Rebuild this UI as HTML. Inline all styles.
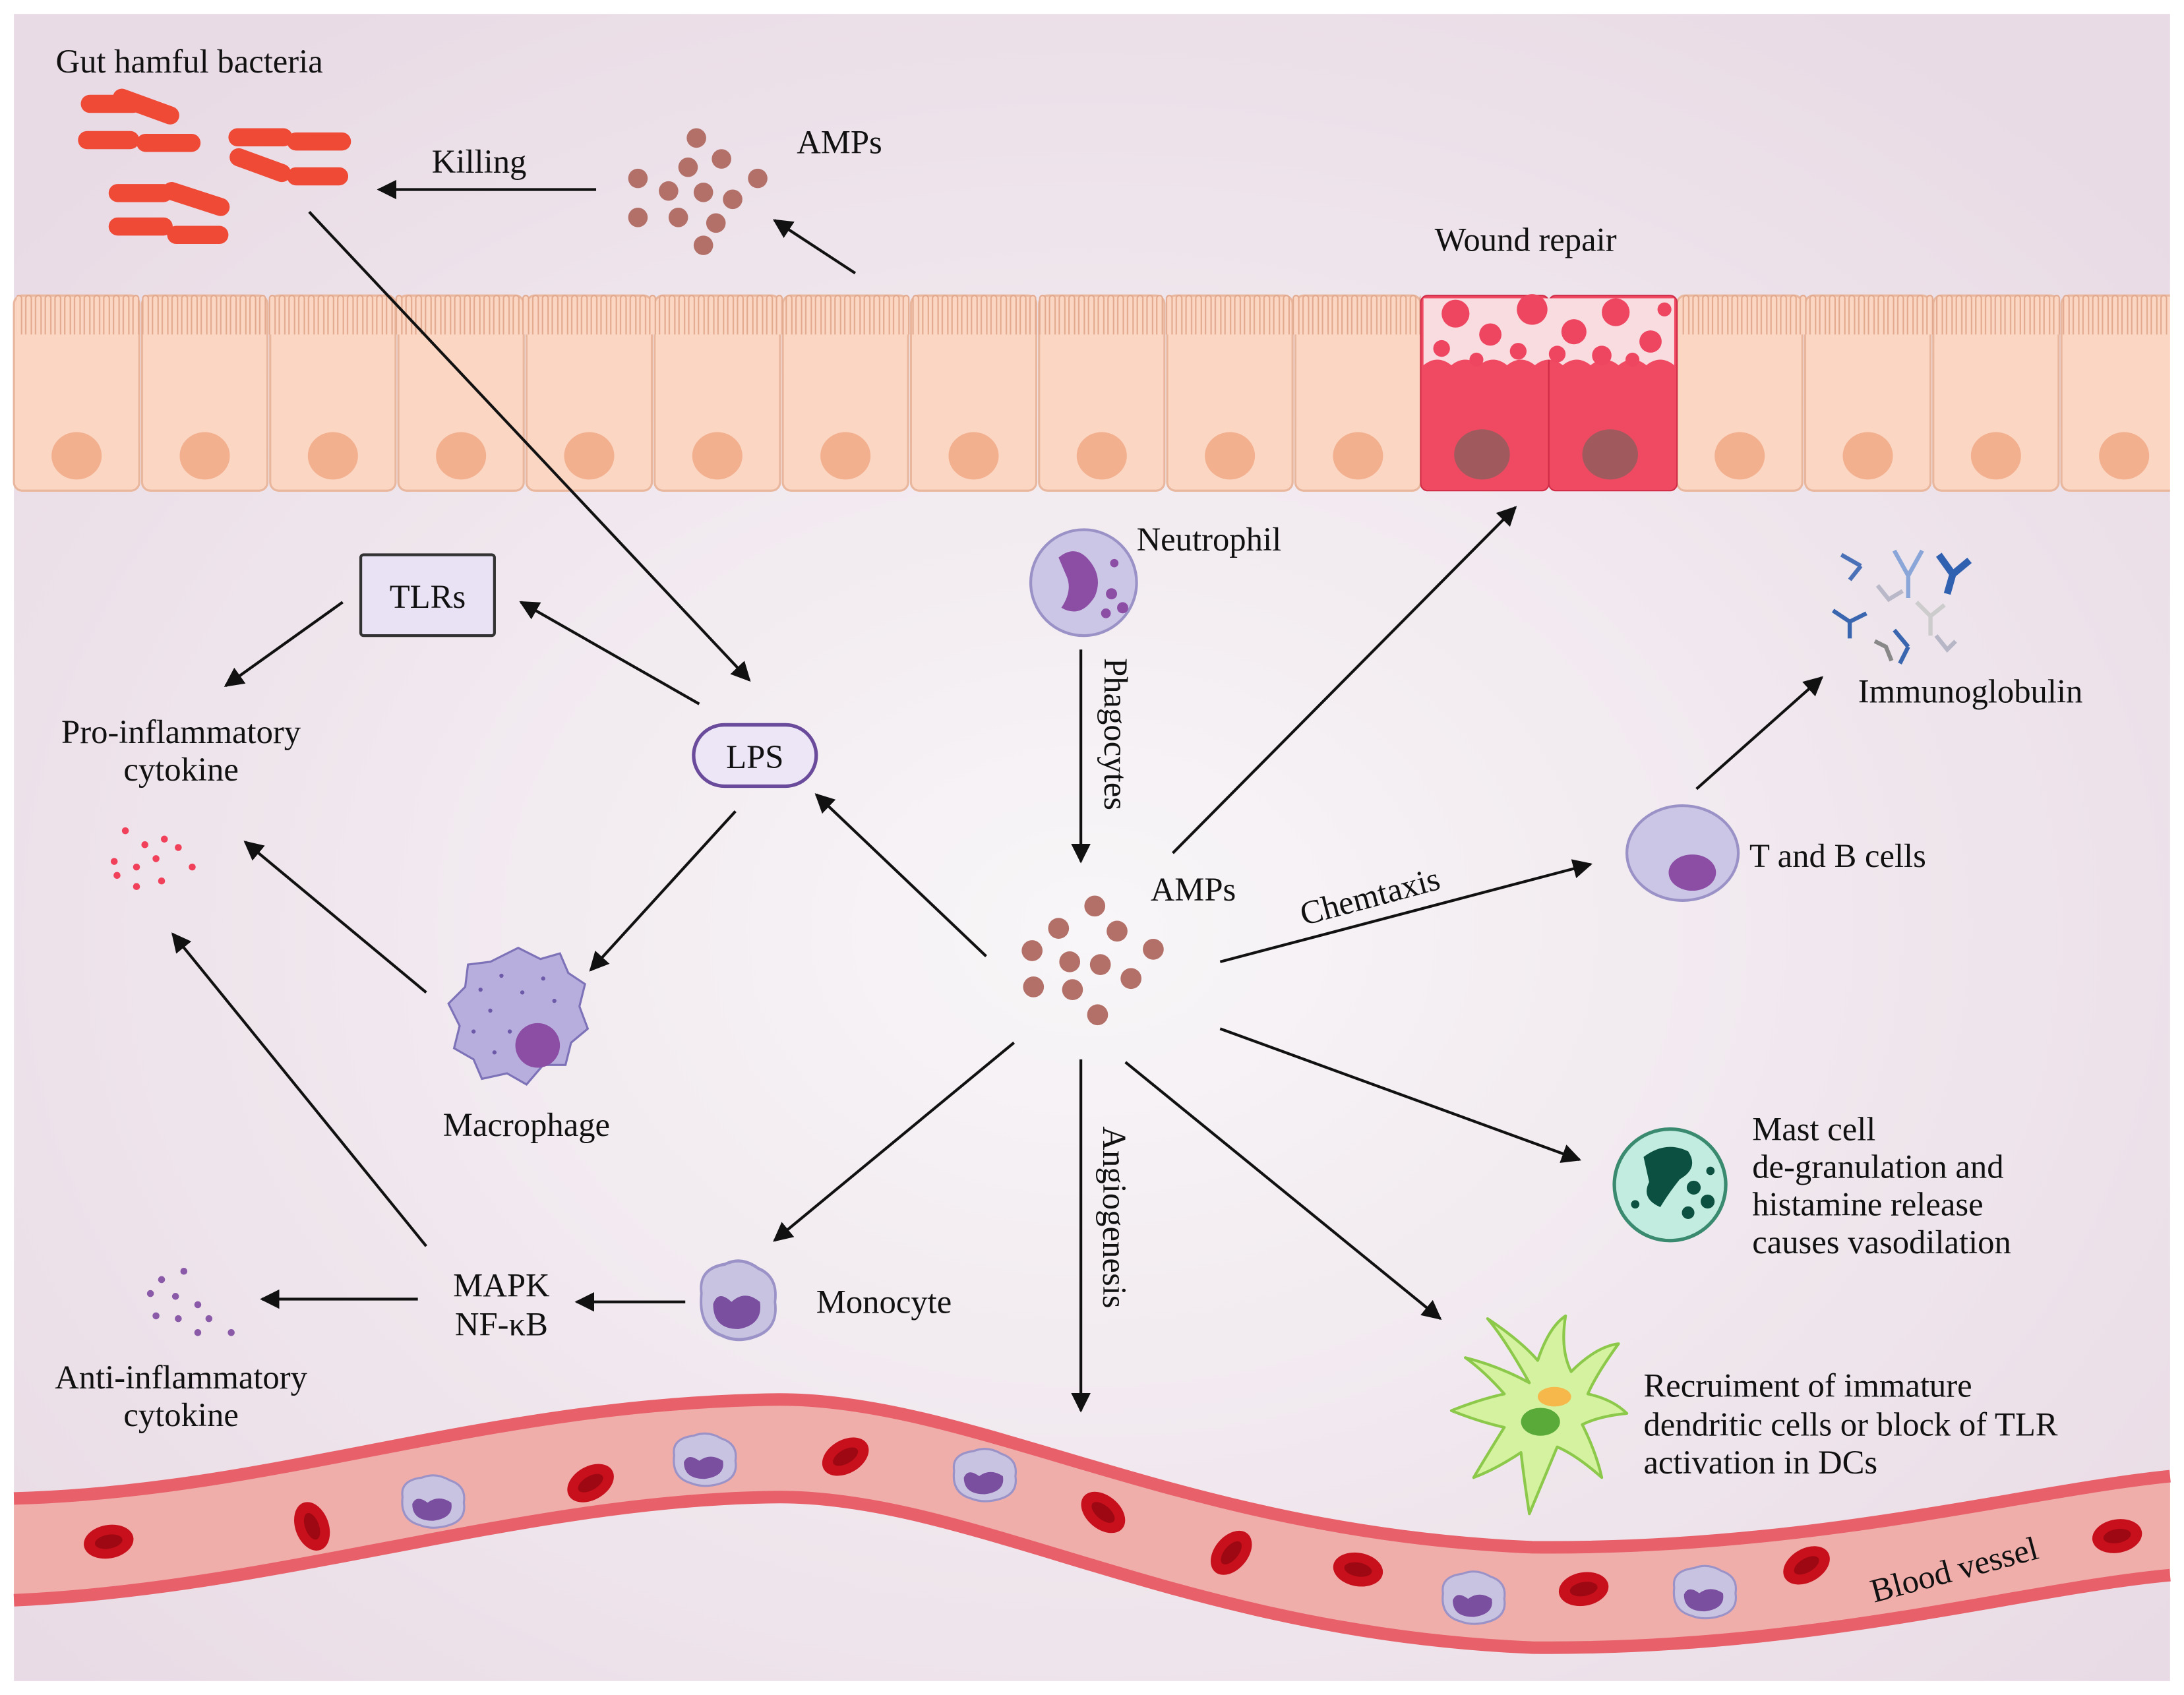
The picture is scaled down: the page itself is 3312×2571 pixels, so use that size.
<!DOCTYPE html>
<html><head><meta charset="utf-8"><style>
html,body{margin:0;padding:0;background:#fff}
svg{display:block}
svg text{font-family:"Liberation Serif","DejaVu Serif","Times New Roman",serif !important}
</style></head><body>
<svg width="3312" height="2571" viewBox="0 0 1568 1216" preserveAspectRatio="none" xmlns="http://www.w3.org/2000/svg" fill="#111">
<defs>
<radialGradient id="bg" cx="0.5" cy="0.55" r="0.65">
<stop offset="0" stop-color="#f8f6f8"/><stop offset="1" stop-color="#e9dbe5"/>
</radialGradient>
<pattern id="mv" x="10" y="210" width="7" height="30" patternUnits="userSpaceOnUse">
<path d="M1.5,30 V4 a2,2 0 0 1 4,0 V30" fill="#fbd6c3" stroke="#e2a98e" stroke-width="1"/>
</pattern>
<marker id="a" viewBox="0 0 10 10" refX="9" refY="5" markerWidth="7" markerHeight="7" orient="auto"><path d="M0,0 L10,5 L0,10 z" fill="#111"/></marker>
<g id="cell"><rect x="0" y="0" width="90" height="140" rx="6" fill="#fbd6c3" stroke="#e9b79d" stroke-width="1.5"/><ellipse cx="45" cy="115" rx="18" ry="17" fill="#f2b08f"/></g>
<g id="rbc"><ellipse rx="18" ry="12" fill="#c7101c"/><ellipse rx="10" ry="5" fill="#9e0812"/></g>
<g id="mono"><path d="M-22,-4 Q-24,-16 -8,-18 Q2,-22 12,-16 Q24,-12 22,0 Q24,12 12,16 Q0,20 -10,16 Q-24,12 -22,-4z" fill="#c9c3e2" stroke="#9b93c7" stroke-width="1.5"/><path d="M-15,1 Q-12,-6 -4,0 Q4,-6 13,0 Q15,11 0,13 Q-15,13 -15,1z" fill="#7b4fa0"/></g>
</defs>
<rect width="1568" height="1216" fill="#fff"/>
<rect x="10" y="10" width="1548" height="1196" fill="url(#bg)"/>

<!-- epithelium -->
<g transform="translate(10,212)">
<use href="#cell" x="0"/><use href="#cell" x="92"/><use href="#cell" x="184"/><use href="#cell" x="276"/><use href="#cell" x="368"/><use href="#cell" x="460"/><use href="#cell" x="552"/><use href="#cell" x="644"/><use href="#cell" x="736"/><use href="#cell" x="828"/><use href="#cell" x="920"/>
<use href="#cell" x="1194"/><use href="#cell" x="1286"/><use href="#cell" x="1378"/><use href="#cell" x="1470"/>
</g>
<rect x="12" y="210" width="1008" height="30" fill="url(#mv)"/>
<rect x="1206" y="210" width="350" height="30" fill="url(#mv)"/>
<rect x="1558" y="200" width="10" height="160" fill="#fff"/>
<!-- wound cells -->
<g>
<rect x="1020" y="212" width="92" height="140" rx="5" fill="#f04a62" stroke="#d02c48"/>
<rect x="1112" y="212" width="92" height="140" rx="5" fill="#f04a62" stroke="#d02c48"/>
<path d="M1022,214 H1202 V262 q-10,-8 -20,0 q-10,-8 -20,0 q-10,-8 -20,0 q-10,-8 -20,0 q-10,-8 -20,0 q-10,-8 -20,0 q-10,-8 -20,0 q-10,-8 -20,0 q-10,-8 -20,0z" fill="#f9dce0"/>
<g fill="#ee4660">
<circle cx="1045" cy="225" r="10"/><circle cx="1070" cy="240" r="8"/><circle cx="1100" cy="222" r="11"/><circle cx="1130" cy="238" r="9"/><circle cx="1160" cy="224" r="10"/><circle cx="1185" cy="245" r="8"/><circle cx="1035" cy="250" r="6"/><circle cx="1090" cy="252" r="6"/><circle cx="1150" cy="255" r="7"/><circle cx="1195" cy="222" r="5"/><circle cx="1060" cy="258" r="5"/><circle cx="1118" cy="254" r="6"/><circle cx="1172" cy="258" r="5"/>
</g>
<ellipse cx="1064" cy="326" rx="20" ry="18" fill="#a05a5e"/>
<ellipse cx="1156" cy="326" rx="20" ry="18" fill="#a05a5e"/>
</g>

<!-- blood vessel -->
<path d="M10,1075 C200,1070 350,1006 560,1004 C700,1004 850,1100 1100,1110 C1300,1112 1450,1070 1558,1059 L1558,1130 C1450,1140 1300,1184 1100,1182 C850,1172 700,1074 560,1074 C380,1075 200,1140 10,1148z" fill="#f0aeab"/>
<path d="M10,1075 C200,1070 350,1006 560,1004 C700,1004 850,1100 1100,1110 C1300,1112 1450,1070 1558,1059" fill="none" stroke="#e8606a" stroke-width="9"/>
<path d="M10,1148 C200,1140 380,1075 560,1074 C700,1074 850,1172 1100,1182 C1300,1184 1450,1140 1558,1130" fill="none" stroke="#e8606a" stroke-width="9"/>
<use href="#rbc" transform="translate(78,1106) rotate(-10)"/>
<use href="#rbc" transform="translate(224,1095) rotate(70)"/>
<use href="#rbc" transform="translate(424,1064) rotate(-30)"/>
<use href="#rbc" transform="translate(607,1045) rotate(-30)"/>
<use href="#rbc" transform="translate(792,1085) rotate(40)"/>
<use href="#rbc" transform="translate(884,1114) rotate(-50)"/>
<use href="#rbc" transform="translate(975,1126) rotate(10)"/>
<use href="#rbc" transform="translate(1137,1140) rotate(-10)"/>
<use href="#rbc" transform="translate(1297,1123) rotate(-30)"/>
<use href="#rbc" transform="translate(1520,1102) rotate(-10)"/>
<use href="#mono" transform="translate(311,1078)"/>
<use href="#mono" transform="translate(506,1048)"/>
<use href="#mono" transform="translate(707,1059)"/>
<use href="#mono" transform="translate(1058,1147)"/>
<use href="#mono" transform="translate(1224,1143)"/>
<text x="1340" y="1132" font-size="24" transform="rotate(-15 1410 1120)">Blood vessel</text>

<!-- bacteria -->
<g fill="#ef4a36">
<rect x="58" y="68" width="44" height="13" rx="6.5"/><rect x="80" y="70" width="50" height="13" rx="6.5" transform="rotate(20 105 76)"/>
<rect x="56" y="94" width="44" height="13" rx="6.5"/><rect x="98" y="96" width="46" height="13" rx="6.5"/>
<rect x="164" y="92" width="46" height="13" rx="6.5"/><rect x="206" y="95" width="46" height="13" rx="6.5"/>
<rect x="164" y="112" width="46" height="13" rx="6.5" transform="rotate(20 187 118)"/><rect x="206" y="120" width="44" height="13" rx="6.5"/>
<rect x="78" y="132" width="46" height="13" rx="6.5"/><rect x="116" y="136" width="50" height="13" rx="6.5" transform="rotate(18 140 142)"/>
<rect x="78" y="156" width="46" height="13" rx="6.5"/><rect x="120" y="162" width="44" height="13" rx="6.5"/>
</g>
<text x="40" y="52" font-size="24">Gut hamful bacteria</text>

<!-- AMPs top -->
<g fill="#b37068">
<circle cx="500" cy="99" r="7"/><circle cx="518" cy="114" r="7"/><circle cx="458" cy="128" r="7"/><circle cx="494" cy="120" r="7"/><circle cx="544" cy="128" r="7"/><circle cx="480" cy="137" r="7"/><circle cx="505" cy="138" r="7"/><circle cx="526" cy="143" r="7"/><circle cx="458" cy="156" r="7"/><circle cx="487" cy="156" r="7"/><circle cx="514" cy="160" r="7"/><circle cx="505" cy="176" r="7"/>
</g>
<text x="572" y="110" font-size="24">AMPs</text>
<line x1="428" y1="136" x2="272" y2="136" stroke="#111" stroke-width="2" marker-end="url(#a)"/>
<text x="310" y="124" font-size="24">Killing</text>
<line x1="614" y1="196" x2="556" y2="158" stroke="#111" stroke-width="2" marker-end="url(#a)"/>
<text x="1030" y="180" font-size="24">Wound repair</text>

<line x1="222" y1="152" x2="538" y2="488" stroke="#111" stroke-width="2" marker-end="url(#a)"/>

<!-- TLRs -->
<rect x="259" y="398" width="96" height="58" fill="#e9e2f4" stroke="#333" stroke-width="2" rx="2"/>
<text x="307" y="436" font-size="24" text-anchor="middle">TLRs</text>
<rect x="498" y="520" width="88" height="44" rx="22" fill="#ece6f6" stroke="#6a4a9a" stroke-width="2.5"/>
<text x="542" y="551" font-size="24" text-anchor="middle">LPS</text>
<line x1="502" y1="505" x2="374" y2="432" stroke="#111" stroke-width="2" marker-end="url(#a)"/>
<line x1="246" y1="432" x2="162" y2="492" stroke="#111" stroke-width="2" marker-end="url(#a)"/>
<text x="130" y="533" font-size="24" text-anchor="middle">Pro-inflammatory</text>
<text x="130" y="560" font-size="24" text-anchor="middle">cytokine</text>
<g fill="#f0405a">
<circle cx="90" cy="596" r="2.5"/><circle cx="104" cy="606" r="2.5"/><circle cx="118" cy="602" r="2.5"/><circle cx="128" cy="608" r="2.5"/><circle cx="82" cy="618" r="2.5"/><circle cx="98" cy="622" r="2.5"/><circle cx="112" cy="616" r="2.5"/><circle cx="138" cy="622" r="2.5"/><circle cx="84" cy="628" r="2.5"/><circle cx="98" cy="636" r="2.5"/><circle cx="116" cy="632" r="2.5"/>
</g>
<line x1="528" y1="582" x2="424" y2="696" stroke="#111" stroke-width="2" marker-end="url(#a)"/>
<line x1="306" y1="712" x2="176" y2="604" stroke="#111" stroke-width="2" marker-end="url(#a)"/>
<line x1="306" y1="894" x2="124" y2="670" stroke="#111" stroke-width="2" marker-end="url(#a)"/>

<!-- Macrophage -->
<path d="M372,680 L388,688 L402,684 L408,698 L420,706 L416,722 L422,738 L410,748 L406,764 L390,764 L378,778 L364,770 L346,774 L340,760 L326,752 L330,736 L322,720 L334,708 L336,692 L352,690z" fill="#b7aedd" stroke="#7d72b8" stroke-width="1.5"/>
<g fill="#6c5aa8"><circle cx="345" cy="710" r="1.5"/><circle cx="360" cy="700" r="1.5"/><circle cx="375" cy="712" r="1.5"/><circle cx="352" cy="725" r="1.5"/><circle cx="340" cy="740" r="1.5"/><circle cx="366" cy="740" r="1.5"/><circle cx="390" cy="702" r="1.5"/><circle cx="355" cy="755" r="1.5"/><circle cx="398" cy="718" r="1.5"/></g>
<circle cx="386" cy="750" r="16" fill="#8b4ea4"/>
<text x="378" y="815" font-size="24" text-anchor="middle">Macrophage</text>

<!-- MAPK -->
<text x="360" y="930" font-size="24" text-anchor="middle">MAPK</text>
<text x="360" y="958" font-size="24" text-anchor="middle">NF-κB</text>
<line x1="492" y1="934" x2="414" y2="934" stroke="#111" stroke-width="2" marker-end="url(#a)"/>
<line x1="300" y1="932" x2="188" y2="932" stroke="#111" stroke-width="2" marker-end="url(#a)"/>
<g fill="#8a5aa8">
<circle cx="132" cy="912" r="2.5"/><circle cx="116" cy="918" r="2.5"/><circle cx="108" cy="928" r="2.5"/><circle cx="126" cy="930" r="2.5"/><circle cx="142" cy="936" r="2.5"/><circle cx="112" cy="944" r="2.5"/><circle cx="128" cy="946" r="2.5"/><circle cx="150" cy="946" r="2.5"/><circle cx="142" cy="956" r="2.5"/><circle cx="166" cy="956" r="2.5"/>
</g>
<text x="130" y="996" font-size="24" text-anchor="middle">Anti-inflammatory</text>
<text x="130" y="1023" font-size="24" text-anchor="middle">cytokine</text>
<use href="#mono" transform="translate(530,934) scale(1.2,1.5)"/>
<text x="586" y="942" font-size="24">Monocyte</text>

<!-- Neutrophil -->
<circle cx="778" cy="418" r="38" fill="#ccc6e6" stroke="#9a92c6" stroke-width="2"/>
<path d="M760,400 Q772,390 782,402 Q792,414 786,428 Q776,444 762,436 Q770,424 766,414z" fill="#8b4ea4"/>
<g fill="#8b4ea4"><circle cx="798" cy="426" r="4"/><circle cx="806" cy="436" r="4"/><circle cx="794" cy="440" r="3.5"/><circle cx="800" cy="404" r="3"/></g>
<text x="816" y="395" font-size="24">Neutrophil</text>
<line x1="776" y1="466" x2="776" y2="618" stroke="#111" stroke-width="2" marker-end="url(#a)"/>
<text font-size="24" transform="translate(793,472) rotate(90)">Phagocytes</text>

<!-- central AMPs -->
<g fill="#b37068">
<circle cx="786" cy="650" r="7.5"/><circle cx="760" cy="666" r="7.5"/><circle cx="802" cy="668" r="7.5"/><circle cx="741" cy="682" r="7.5"/><circle cx="768" cy="690" r="7.5"/><circle cx="790" cy="692" r="7.5"/><circle cx="828" cy="681" r="7.5"/><circle cx="812" cy="702" r="7.5"/><circle cx="742" cy="708" r="7.5"/><circle cx="770" cy="710" r="7.5"/><circle cx="788" cy="728" r="7.5"/>
</g>
<text x="826" y="646" font-size="24">AMPs</text>

<line x1="708" y1="686" x2="586" y2="570" stroke="#111" stroke-width="2" marker-end="url(#a)"/>
<line x1="842" y1="612" x2="1088" y2="364" stroke="#111" stroke-width="2" marker-end="url(#a)"/>
<line x1="876" y1="690" x2="1142" y2="620" stroke="#111" stroke-width="2" marker-end="url(#a)"/>
<text font-size="24" transform="translate(936,664) rotate(-15)">Chemtaxis</text>
<line x1="876" y1="738" x2="1134" y2="832" stroke="#111" stroke-width="2" marker-end="url(#a)"/>
<line x1="808" y1="762" x2="1034" y2="946" stroke="#111" stroke-width="2" marker-end="url(#a)"/>
<line x1="776" y1="760" x2="776" y2="1012" stroke="#111" stroke-width="2" marker-end="url(#a)"/>
<text font-size="24" transform="translate(792,808) rotate(90)">Angiogenesis</text>
<line x1="728" y1="748" x2="556" y2="890" stroke="#111" stroke-width="2" marker-end="url(#a)"/>

<!-- T and B cells -->
<ellipse cx="1208" cy="612" rx="40" ry="34" fill="#ccc6e6" stroke="#9a92c6" stroke-width="2"/>
<ellipse cx="1215" cy="626" rx="17" ry="13" fill="#8b4ea4"/>
<text x="1256" y="622" font-size="24">T and B cells</text>
<line x1="1218" y1="566" x2="1308" y2="486" stroke="#111" stroke-width="2" marker-end="url(#a)"/>
<g stroke-width="3" fill="none">
<path d="M1360,395 l10,18 l10,-18 M1370,413 v16" stroke="#8aa6d8"/>
<path d="M1392,398 l10,14 l12,-10 M1402,412 l-4,14" stroke="#3060b0" stroke-width="5"/>
<path d="M1322,398 l14,8 M1336,406 l-8,10" stroke="#4a70b8"/>
<path d="M1316,438 l12,8 l12,-6 M1328,446 v12" stroke="#3a66b0"/>
<path d="M1348,420 l8,10 l10,-6" stroke="#b8b8c8"/>
<path d="M1376,432 l10,10 l10,-8 M1386,442 v14" stroke="#ccc"/>
<path d="M1360,452 l10,12 M1370,464 l-6,12" stroke="#3a66b0"/>
<path d="M1346,460 l8,4 l4,10" stroke="#888"/>
<path d="M1390,456 l8,10 l6,-6" stroke="#b6b6c6"/>
</g>
<text x="1334" y="504" font-size="24">Immunoglobulin</text>

<!-- Mast cell -->
<circle cx="1199" cy="850" r="40" fill="#c2ece0" stroke="#3a8a70" stroke-width="2.5"/>
<path d="M1180,830 Q1196,818 1212,826 Q1220,838 1206,846 Q1198,856 1192,866 Q1178,860 1184,848z" fill="#0b5040"/>
<g fill="#0b5040"><circle cx="1216" cy="852" r="5"/><circle cx="1226" cy="862" r="5"/><circle cx="1212" cy="870" r="4.5"/><circle cx="1174" cy="864" r="3"/><circle cx="1228" cy="840" r="3"/></g>
<text x="1258" y="818" font-size="24">Mast cell</text>
<text x="1258" y="845" font-size="24">de-granulation and</text>
<text x="1258" y="872" font-size="24">histamine release</text>
<text x="1258" y="899" font-size="24">causes vasodilation</text>

<!-- Dendritic cell -->
<path d="M1098,992 Q1080,960 1068,946 Q1092,962 1104,976 Q1112,952 1124,944 Q1120,968 1128,984 Q1146,966 1162,964 Q1146,986 1140,1000 Q1158,1004 1168,1014 Q1148,1016 1136,1022 Q1146,1042 1150,1060 Q1132,1044 1118,1038 Q1108,1062 1098,1086 Q1094,1060 1092,1042 Q1074,1054 1058,1060 Q1070,1040 1080,1024 Q1062,1020 1042,1012 Q1062,1004 1080,1000 Q1066,984 1052,974 Q1076,980 1098,992z" fill="#d4f2a0" stroke="#8cc84a" stroke-width="2" stroke-linejoin="round"/>
<ellipse cx="1106" cy="1020" rx="14" ry="10" fill="#5aaa3a"/>
<ellipse cx="1116" cy="1002" rx="12" ry="7" fill="#f6b84a"/>
<text x="1180" y="1002" font-size="24">Recruiment of immature</text>
<text x="1180" y="1030" font-size="24">dendritic cells or block of TLR</text>
<text x="1180" y="1057" font-size="24">activation in DCs</text>
</svg>
</body></html>
